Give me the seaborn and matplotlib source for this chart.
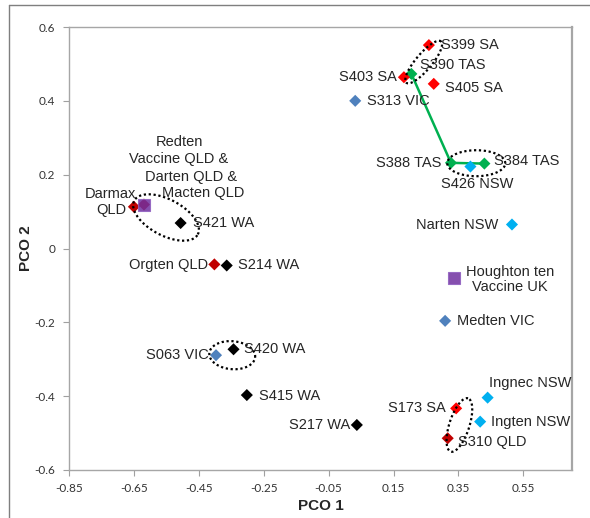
import numpy as np
import pandas as pd
import matplotlib
matplotlib.use("Agg")
import matplotlib.pyplot as plt
from matplotlib.lines import Line2D
import seaborn as sns

# ---------------- data ----------------
names = ["S399 SA", "S390 TAS", "S403 SA", "S405 SA", "S313 VIC",
         "S388 TAS", "S426 NSW", "S384 TAS", "Narten NSW", "Houghton ten\nVaccine UK",
         "Medten VIC", "Ingnec NSW", "S173 SA", "Ingten NSW", "S310 QLD",
         "S217 WA", "S415 WA", "S420 WA", "S063 VIC", "Orgten QLD",
         "S214 WA", "S421 WA", "Darmax\nQLD", "Darten/Macten QLD", "Redten Vaccine QLD"]
pco1 = [0.259, 0.205, 0.182, 0.274, 0.032,
        0.327, 0.387, 0.430, 0.515, 0.337,
        0.309, 0.440, 0.343, 0.417, 0.317,
        0.037, -0.302, -0.343, -0.397, -0.402,
        -0.364, -0.506, -0.650, -0.619, -0.619]
pco2 = [0.551, 0.473, 0.464, 0.446, 0.400,
        0.232, 0.222, 0.230, 0.065, -0.081,
        -0.196, -0.404, -0.433, -0.469, -0.514,
        -0.478, -0.397, -0.273, -0.289, -0.043,
        -0.046, 0.069, 0.113, 0.119, 0.119]
groups = ["red", "green", "red", "red", "steel",
          "green", "cyan", "green", "cyan", "purple",
          "steel", "cyan", "red", "cyan", "darkred",
          "black", "black", "black", "steel", "darkred",
          "black", "black", "darkred", "darkred", "purple"]

# label offsets in pixels (dx, dy up), horizontal alignment
label_pos = {
    "S399 SA": (12, 0, "left"), "S390 TAS": (9, 9, "left"), "S403 SA": (-7, 0, "right"),
    "S405 SA": (11, -4, "left"), "S313 VIC": (12, 0, "left"), "S388 TAS": (-10, 0, "right"),
    "S426 NSW": (7, -17, "center"), "S384 TAS": (10, 3, "left"), "Narten NSW": (-14, 0, "right"),
    "Houghton ten\nVaccine UK": (56, -1, "center"), "Medten VIC": (12, 0, "left"),
    "Ingnec NSW": (1, 15, "left"), "S173 SA": (-10, 0, "right"), "Ingten NSW": (11, 0, "left"),
    "S310 QLD": (10, -4, "left"), "S217 WA": (-7, 0, "right"), "S415 WA": (12, -1, "left"),
    "S420 WA": (10, 0, "left"), "S063 VIC": (-7, 0, "right"), "Orgten QLD": (-6, -1, "right"),
    "S214 WA": (11, 0, "left"), "S421 WA": (12, 0, "left"), "Darmax\nQLD": (-23, 5, "center"),
}
redten_lines = ["Redten", "Vaccine QLD &", "Darten QLD &", "Macten QLD"]
redten_offsets = [(35, 63), (35, 46), (47, 28), (59, 12)]

# green connecting line (S390 TAS -> S388 TAS -> S384 TAS)
path_names = ["S390 TAS", "S388 TAS", "S384 TAS"]

# dotted ellipses: centre (data), semi-axes (px), angle (deg)
ellipses = [((0.243, 0.505), 27, 8, 50),
            ((0.405, 0.231), 29, 13, 0),
            ((-0.551, 0.084), 36, 18, -28),
            ((-0.347, -0.289), 23, 14, -5),
            ((0.353, -0.478), 28, 10, 72)]

xticks = [-0.85, -0.65, -0.45, -0.25, -0.05, 0.15, 0.35, 0.55]
yticks = [-0.6, -0.4, -0.2, 0, 0.2, 0.4, 0.6]

df = pd.DataFrame({"name": names, "PCO 1": pco1, "PCO 2": pco2, "group": groups})

palette = {"red": "#FF0000", "darkred": "#C00000", "green": "#00B050", "cyan": "#00B0F0",
           "steel": "#4F81BD", "black": "#000000", "purple": "#7030A0"}
markers = {"red": "D", "darkred": "D", "green": "D", "cyan": "D",
           "steel": "D", "black": "D", "purple": "s"}

# ---------------- figure ----------------
sns.set_style("white")
plt.rcParams["font.family"] = ["Liberation Sans", "DejaVu Sans"]
plt.rcParams["axes.unicode_minus"] = False

W, H = 590, 518
fig = plt.figure(figsize=(W / 100, H / 100), dpi=100)
ax_l, ax_r, ax_t, ax_b = 69, 572, 27, 470
ax = fig.add_axes([ax_l / W, 1 - ax_b / H, (ax_r - ax_l) / W, (ax_b - ax_t) / H])
xmin, xmax, ymin, ymax = -0.85, 0.70, -0.6, 0.6
ax.set_xlim(xmin, xmax)
ax.set_ylim(ymin, ymax)
sx = (ax_r - ax_l) / (xmax - xmin)
sy = (ax_b - ax_t) / (ymax - ymin)

# green line
pdf = df.set_index("name").loc[path_names].reset_index()
sns.lineplot(data=pdf, x="PCO 1", y="PCO 2", sort=False, color="#00B050", lw=1.8,
             ax=ax, zorder=2, legend=False)

# diamonds
dd = df[df["group"] != "purple"]
sns.scatterplot(data=dd, x="PCO 1", y="PCO 2", hue="group", style="group",
                palette=palette, markers=markers, s=38, linewidth=0,
                ax=ax, legend=False, zorder=3)
dp = df[df["group"] == "purple"]
sns.scatterplot(data=dp, x="PCO 1", y="PCO 2", color="#7030A0", marker="s",
                s=75, linewidth=0.8, edgecolor="#9060C0", alpha=0.85,
                ax=ax, legend=False, zorder=4)

# ellipses
t = np.linspace(0, 2 * np.pi, 300)
for (cx, cy), a, b, ang in ellipses:
    th = np.deg2rad(ang)
    px = a * np.cos(t) * np.cos(th) - b * np.sin(t) * np.sin(th)
    py = a * np.cos(t) * np.sin(th) + b * np.sin(t) * np.cos(th)
    ax.plot(cx + px / sx, cy + py / sy, color="black", lw=1.6,
            linestyle=(0, (1.0, 1.2)), dash_capstyle="butt", zorder=5)

# labels
for _, r in df.iterrows():
    if r["name"] in label_pos:
        dx, dy, ha = label_pos[r["name"]]
        ax.annotate(r["name"], (r["PCO 1"], r["PCO 2"]), xytext=(dx, dy),
                    textcoords="offset pixels", ha=ha, va="center",
                    multialignment="center", fontsize=10.5, color="#262626",
                    linespacing=1.15, zorder=6)
rr = df[df["name"] == "Redten Vaccine QLD"].iloc[0]
for line, (dx, dy) in zip(redten_lines, redten_offsets):
    ax.annotate(line, (rr["PCO 1"], rr["PCO 2"]), xytext=(dx, dy),
                textcoords="offset pixels", ha="center", va="center",
                fontsize=10.5, color="#262626", zorder=6)

# axes styling
ax.set_xticks(xticks)
ax.set_xticklabels([f"{v:.2f}" for v in xticks])
ax.set_yticks(yticks)
ax.set_yticklabels(["0" if v == 0 else f"{v:.1f}" for v in yticks])
for lab in ax.get_xticklabels() + ax.get_yticklabels():
    lab.set_fontfamily(["Lato", "DejaVu Sans"])
    lab.set_fontsize(8.5)
    lab.set_color("#333333")
ax.tick_params(axis="both", direction="out", length=4, width=0.8, color="#A0A0A0",
               bottom=True, left=True)
ax.tick_params(axis="x", pad=5)
ax.tick_params(axis="y", pad=6)
for sp in ax.spines.values():
    sp.set_color("#A6A6A6")
    sp.set_linewidth(1.0)
ax.spines["right"].set_linewidth(1.6)
ax.set_xlabel("PCO 1", fontsize=11, fontweight="bold", labelpad=4)
ax.set_ylabel("PCO 2", fontsize=11, fontweight="bold", labelpad=1)
ax.grid(False)

# outer chart frame (left and top edges visible)
fig.add_artist(Line2D([9 / W, 9 / W], [0, 1 - 5 / H], transform=fig.transFigure,
                      color="#7F7F7F", lw=1.0))
fig.add_artist(Line2D([9 / W, 1], [1 - 5 / H, 1 - 5 / H], transform=fig.transFigure,
                      color="#7F7F7F", lw=1.0))

fig.savefig("out.png", dpi=100)
